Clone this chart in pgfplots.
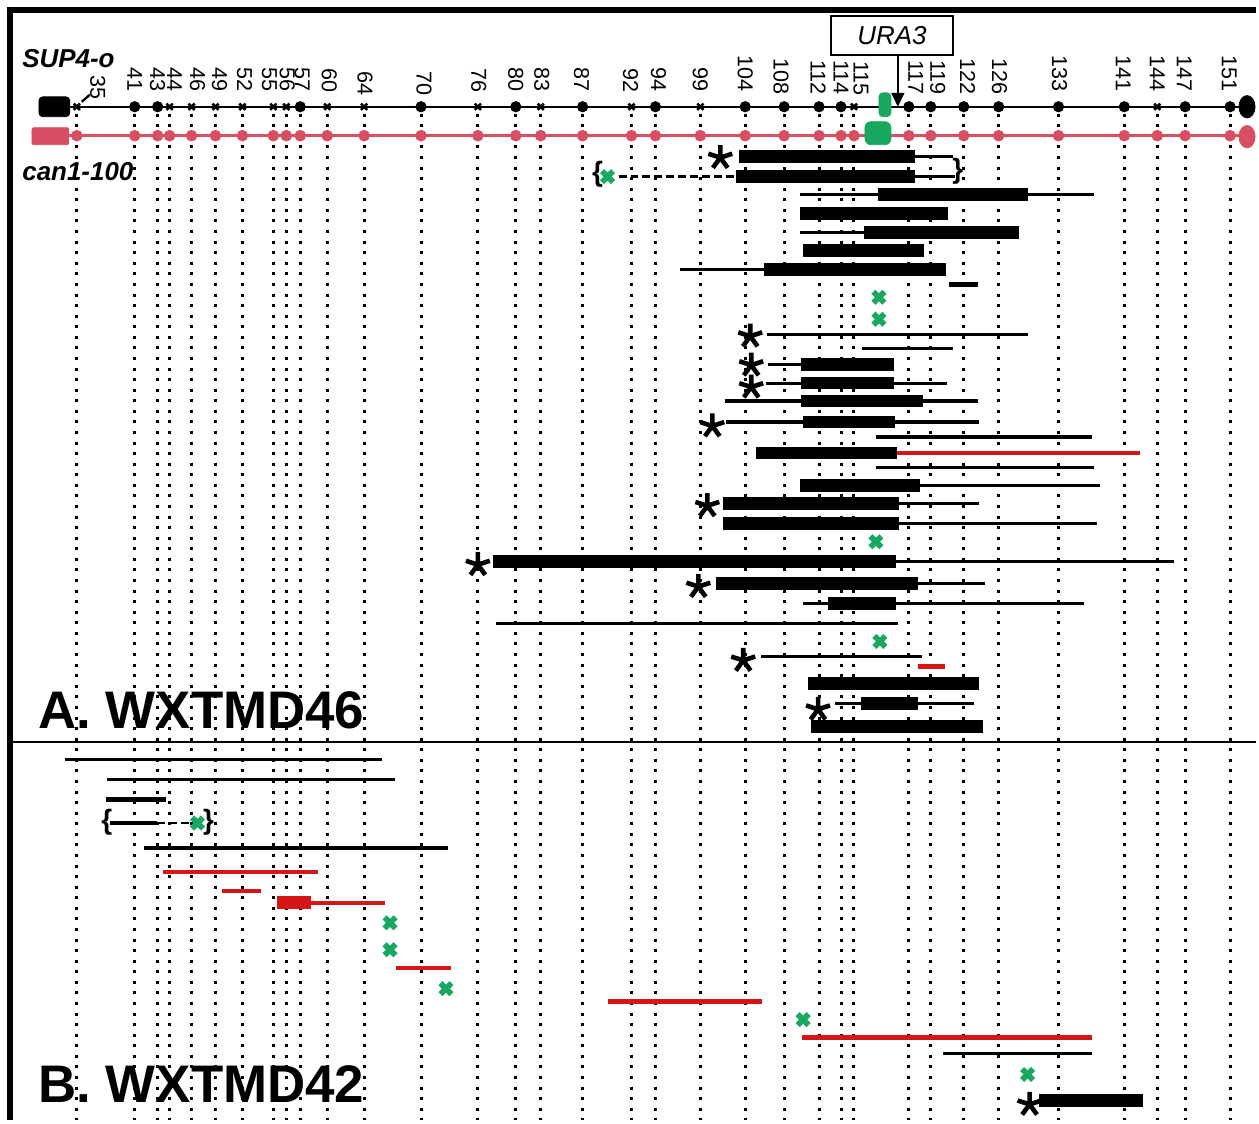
\documentclass[border=0pt]{standalone}
\usepackage{pgfplots}
\pgfplotsset{compat=1.18}
\usepackage{fontspec}
\setmainfont{Liberation Sans}
\usetikzlibrary{arrows.meta}
\definecolor{chrred}{RGB}{216,78,98}
\definecolor{segred}{RGB}{214,22,22}
\definecolor{grn}{RGB}{24,168,96}
\begin{document}
\begin{tikzpicture}
\begin{axis}[
  scale only axis, width=629.5pt, height=561.5pt,
  xmin=0, xmax=1259, ymin=0, ymax=1123, y dir=reverse,
  axis line style={draw=none}, ticks=none, clip=false,
  unbounded coords=jump,
]
% frame
\addplot[black, line width=3pt, line join=miter] coordinates {(1259,10) (10,10) (10,1123)};
\addplot[black, line width=1pt] coordinates {(10,744) (1259,744)};
% dotted guide lines
\addplot[black, line width=1.5pt, dash pattern=on 1.5pt off 3.8pt] coordinates {
(77,114) (77,1123) (77,nan)
(135,114) (135,1123) (135,nan)
(158,114) (158,1123) (158,nan)
(170,114) (170,1123) (170,nan)
(192,114) (192,1123) (192,nan)
(216,114) (216,1123) (216,nan)
(243,114) (243,1123) (243,nan)
(274,114) (274,1123) (274,nan)
(287,114) (287,1123) (287,nan)
(301,114) (301,1123) (301,nan)
(328,114) (328,1123) (328,nan)
(365,114) (365,1123) (365,nan)
(422,114) (422,1123) (422,nan)
(479,114) (479,1123) (479,nan)
(517,114) (517,1123) (517,nan)
(542,114) (542,1123) (542,nan)
(584,114) (584,1123) (584,nan)
(633,114) (633,1123) (633,nan)
(657,114) (657,1123) (657,nan)
(702,114) (702,1123) (702,nan)
(747,114) (747,1123) (747,nan)
(786,114) (786,1123) (786,nan)
(821,114) (821,1123) (821,nan)
(843,114) (843,1123) (843,nan)
(856,114) (856,1123) (856,nan)
(911,114) (911,1123) (911,nan)
(933,114) (933,1123) (933,nan)
(966,114) (966,1123) (966,nan)
(1001,114) (1001,1123) (1001,nan)
(1061,114) (1061,1123) (1061,nan)
(1127,114) (1127,1123) (1127,nan)
(1160,114) (1160,1123) (1160,nan)
(1188,114) (1188,1123) (1188,nan)
(1233,114) (1233,1123)
};
% chromosome lines
\addplot[black, line width=1.1pt] coordinates {(70,107) (1245,107)};
\addplot[chrred, line width=1.6pt] coordinates {(69,136) (1245,136)};
\addplot[fill=black, draw=black, rounded corners=2pt] coordinates {(39,97) (70,97) (70,117) (39,117)} --cycle;
\addplot[fill=chrred, draw=chrred, rounded corners=1pt] coordinates {(32,128) (69,128) (69,145) (32,145)} --cycle;
\addplot[fill=grn, draw=grn, rounded corners=2pt] coordinates {(881,93) (893,93) (893,117) (881,117)} --cycle;
\addplot[fill=grn, draw=grn, rounded corners=3pt] coordinates {(867,122) (893,122) (893,145) (867,145)} --cycle;
\addplot[only marks, mark=*, mark size=2.6pt, black] coordinates {
(135,107) (158,107) (301,107) (422,107) (517,107) (584,107) (657,107) (747,107) (786,107) (821,107) (843,107) (911,107) (933,107) (966,107) (1001,107) (1061,107) (1127,107) (1188,107) (1233,107)};
\addplot[only marks, mark=x, mark size=2.2pt, line width=1.3pt, black] coordinates {
(77,107) (170,107) (192,107) (216,107) (243,107) (274,107) (287,107) (328,107) (365,107) (479,107) (542,107) (633,107) (702,107) (856,107) (1160,107)};
\addplot[only marks, mark=*, mark size=2.7pt, chrred] coordinates {
(77,136) (135,136) (158,136) (170,136) (192,136) (216,136) (243,136) (274,136) (287,136) (301,136) (328,136) (365,136) (422,136) (479,136) (517,136) (542,136) (584,136) (633,136) (657,136) (702,136) (747,136) (786,136) (821,136) (843,136) (856,136) (911,136) (933,136) (966,136) (1001,136) (1061,136) (1127,136) (1160,136) (1188,136) (1233,136)};
\addplot[only marks, mark=*, mark size=5.6pt, mark options={xscale=0.72}, black] coordinates {(1250,107)};
\addplot[only marks, mark=*, mark size=5.6pt, mark options={xscale=0.72}, chrred] coordinates {(1250,137)};
\addplot[black, line width=1.2pt] coordinates {(82,102) (90,95)};
% thin black segments
\addplot[black, line width=1.6pt] coordinates {
(741,157) (955,157) (0,nan)
(738,177) (957,177) (0,nan)
(802,195) (1097,195) (0,nan)
(802,233) (1021,233) (0,nan)
(682,270) (948,270) (0,nan)
(769,335) (1030,335) (0,nan)
(864,349) (955,349) (0,nan)
(770,365) (896,365) (0,nan)
(768,384) (949,384) (0,nan)
(727,402) (980,402) (0,nan)
(728,423) (981,423) (0,nan)
(878,438) (1095,438) (0,nan)
(878,469) (1097,469) (0,nan)
(802,487) (1103,487) (0,nan)
(725,505) (981,505) (0,nan)
(725,525) (1100,525) (0,nan)
(494,563) (1177,563) (0,nan)
(718,585) (987,585) (0,nan)
(805,605) (1087,605) (0,nan)
(497,625) (900,625) (0,nan)
(763,658) (924,658) (0,nan)
(837,705) (976,705) (0,nan)
(65,761) (383,761) (0,nan)
(107,781) (396,781) (0,nan)
(110,825) (157,825) (0,nan)
(144,850) (449,850) (0,nan)
(945,1056) (1095,1056)
};
% thick black bars
\addplot[black, line width=6.4pt] coordinates {
(741,157) (917,157) (0,nan)
(738,177) (917,177) (0,nan)
(880,195) (1030,195) (0,nan)
(802,214) (950,214) (0,nan)
(866,233) (1021,233) (0,nan)
(805,251) (926,251) (0,nan)
(766,270) (948,270) (0,nan)
(803,365) (896,365) (0,nan)
(803,384) (896,384) (0,nan)
(803,402) (925,402) (0,nan)
(805,423) (897,423) (0,nan)
(758,454) (899,454) (0,nan)
(802,487) (922,487) (0,nan)
(725,505) (901,505) (0,nan)
(725,525) (901,525) (0,nan)
(494,563) (898,563) (0,nan)
(718,585) (920,585) (0,nan)
(830,605) (898,605) (0,nan)
(810,685) (981,685) (0,nan)
(863,705) (920,705) (0,nan)
(813,728) (985,728) (0,nan)
(1041,1103) (1146,1103)
};
\addplot[black, line width=2.6pt] coordinates {(951,285) (980,285) (0,nan) (106,801) (166,801)};
\addplot[black, line width=1.4pt, dash pattern=on 4pt off 2pt] coordinates {(620,177) (738,177) (0,nan) (157,825) (190,825)};
% red segments
\addplot[segred, line width=2.2pt] coordinates {
(899,454) (1143,454) (0,nan)
(920,668) (947,668) (0,nan)
(163,874) (319,874) (0,nan)
(223,893) (262,893) (0,nan)
(312,905) (386,905) (0,nan)
(397,970) (452,970) (0,nan)
(609,1004) (764,1004) (0,nan)
(804,1040) (1095,1040)
};
\addplot[segred, line width=6.4pt] coordinates {(278,905) (312,905)};
% asterisks
\addplot[only marks, mark=star, mark size=6.3pt, line width=2.3pt, black] coordinates {
(722,158) (752,337) (753,366) (753,388) (714,427) (709,507) (479,566) (700,588) (745,662) (820,711) (1032,1107)};
% green crosses
\addplot[only marks, mark=x, mark size=3.9pt, line width=2.9pt, grn] coordinates {
(609,177) (881,298) (881,320) (878,543) (882,643) (198,825) (391,925) (391,952) (447,991) (805,1022) (1030,1077)};
% braces
\node[font=\bfseries\fontsize{14}{16}\selectfont, inner sep=0pt] at (axis cs:599,175) {\{};
\node[font=\bfseries\fontsize{14}{16}\selectfont, inner sep=0pt] at (axis cs:960,172) {\}};
\node[font=\bfseries\fontsize{14}{16}\selectfont, inner sep=0pt] at (axis cs:107,824) {\{};
\node[font=\bfseries\fontsize{14}{16}\selectfont, inner sep=0pt] at (axis cs:209,824) {\}};
% texts
\node[anchor=base west, inner sep=0pt, font=\bfseries\itshape\fontsize{13}{15}\selectfont] at (axis cs:22,68) {SUP4-o};
\node[anchor=base west, inner sep=0pt, font=\bfseries\itshape\fontsize{13}{15}\selectfont] at (axis cs:22,181) {can1-100};
\node[draw, line width=1pt, minimum width=61pt, minimum height=19.5pt, inner sep=0pt, font=\itshape\fontsize{13}{15}\selectfont, fill=white] at (axis cs:894,35.5) {URA3};
\draw[line width=1pt, -{Triangle[length=7pt,width=6.5pt]}] (axis cs:900,55) -- (axis cs:900,107);
\node[anchor=base west, inner sep=0pt, font=\bfseries\fontsize{26.5}{30}\selectfont] at (axis cs:38,730) {A.\ WXTMD46};
\node[anchor=base west, inner sep=0pt, font=\bfseries\fontsize{26.5}{30}\selectfont] at (axis cs:38,1105) {B.\ WXTMD42};
% position labels
\tikzset{lab/.style={rotate=-90, anchor=east, inner sep=0pt, font=\fontsize{10.8}{12}\selectfont}}
\node[lab] at (axis cs:98,100) {35};
\node[lab] at (axis cs:135,92) {41};
\node[lab] at (axis cs:158,92) {43};
\node[lab] at (axis cs:175,92) {44};
\node[lab] at (axis cs:198,92) {46};
\node[lab] at (axis cs:220,92) {49};
\node[lab] at (axis cs:245,92) {52};
\node[lab] at (axis cs:270,92) {55};
\node[lab] at (axis cs:288,92) {56};
\node[lab] at (axis cs:303,92) {57};
\node[lab] at (axis cs:330,93) {60};
\node[lab] at (axis cs:366,96) {64};
\node[lab] at (axis cs:425,96) {70};
\node[lab] at (axis cs:480,93) {76};
\node[lab] at (axis cs:517,92) {80};
\node[lab] at (axis cs:543,92) {83};
\node[lab] at (axis cs:583,92) {87};
\node[lab] at (axis cs:632,93) {92};
\node[lab] at (axis cs:660,92) {94};
\node[lab] at (axis cs:702,92) {99};
\node[lab] at (axis cs:747,92) {104};
\node[lab] at (axis cs:783,95) {108};
\node[lab] at (axis cs:820,95) {112};
\node[lab] at (axis cs:843,95) {114};
\node[lab] at (axis cs:863,96) {115};
\node[lab] at (axis cs:918,95) {117};
\node[lab] at (axis cs:940,95) {119};
\node[lab] at (axis cs:970,95) {122};
\node[lab] at (axis cs:1002,95) {126};
\node[lab] at (axis cs:1062,92) {133};
\node[lab] at (axis cs:1126,92) {141};
\node[lab] at (axis cs:1160,92) {144};
\node[lab] at (axis cs:1187,92) {147};
\node[lab] at (axis cs:1232,92) {151};
\end{axis}
\end{tikzpicture}
\end{document}
